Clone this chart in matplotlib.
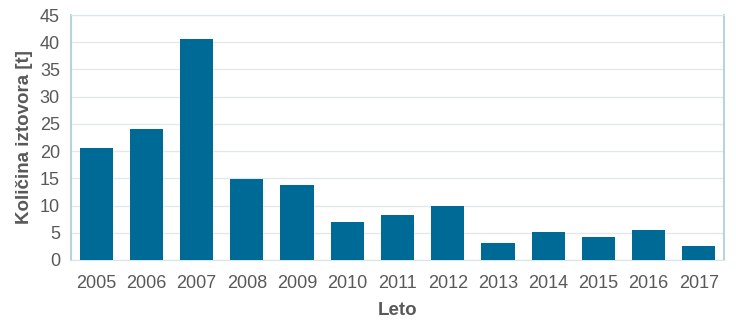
import matplotlib
matplotlib.use("Agg")
import matplotlib.pyplot as plt

years = ["2005", "2006", "2007", "2008", "2009", "2010", "2011", "2012",
         "2013", "2014", "2015", "2016", "2017"]
values = [20.5, 24.0, 40.6, 14.8, 13.7, 6.9, 8.3, 10.0, 3.1, 5.2, 4.3, 5.6, 2.5]
yticks = [0, 5, 10, 15, 20, 25, 30, 35, 40, 45]

plt.rcParams['font.family'] = ['Liberation Sans', 'DejaVu Sans']
fig = plt.figure(figsize=(7.36, 3.27), dpi=100)
ax = fig.add_axes([71/736, 1 - 260/327, 653/736, 245/327])

x = list(range(len(years)))
ax.bar(x, values, width=0.66, color="#006a96", zorder=3)
ax.set_xlim(-0.5, len(years) - 0.5)
ax.set_ylim(0, 45)
ax.set_yticks(yticks)
ax.set_xticks(x)
ax.set_xticklabels(years)
ax.yaxis.grid(True, color="#e3e8ec", linewidth=1, zorder=0)
ax.tick_params(axis="both", length=0, labelsize=13, colors="#595959")
ax.tick_params(axis="x", pad=11)
ax.tick_params(axis="y", pad=8)
for side in ["left", "right"]:
    ax.spines[side].set_color("#a8ccd4")
    ax.spines[side].set_linewidth(1.2)
ax.spines["top"].set_color("#d6e6ea")
ax.spines["bottom"].set_color("#d6e6ea")
ax.set_ylabel("Količina iztovora [t]", fontsize=13.5, fontweight="bold", color="#595959", labelpad=5)
ax.set_xlabel("Leto", fontsize=13.5, fontweight="bold", color="#595959", labelpad=7)
fig.savefig("out.png", dpi=100)
